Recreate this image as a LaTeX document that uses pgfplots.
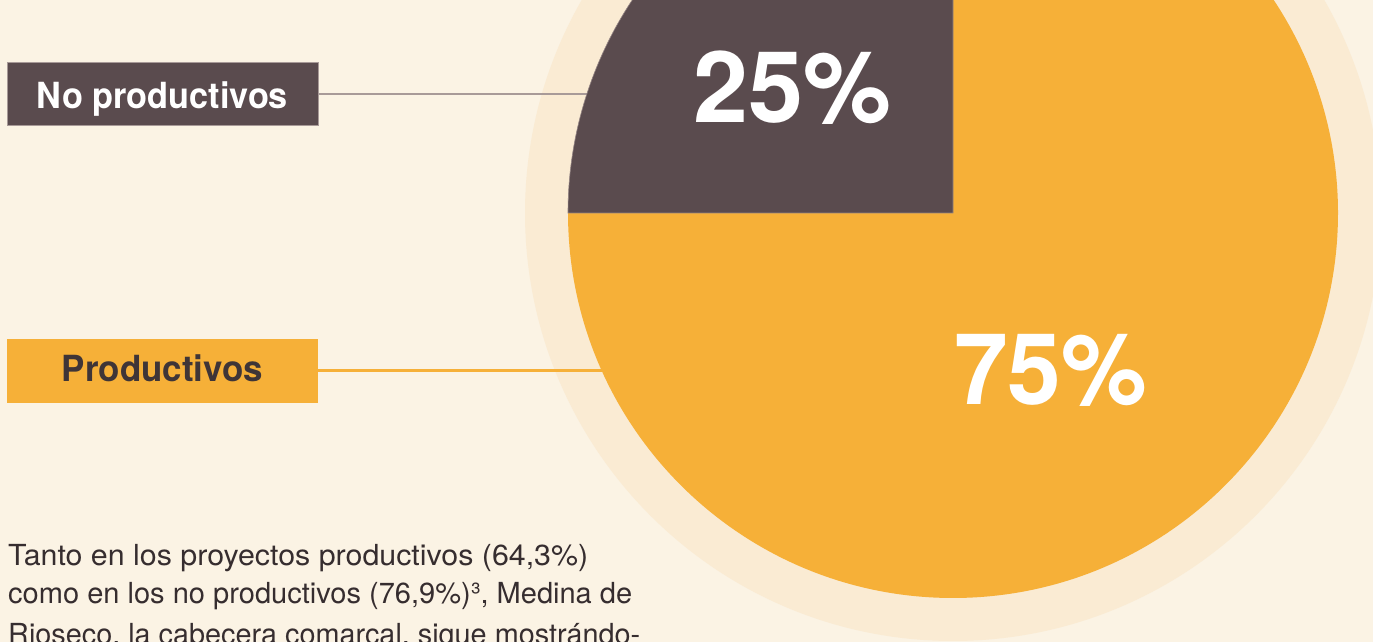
\documentclass[border=0pt]{standalone}
\usepackage{pgfplots}
\pgfplotsset{compat=1.18}
\usepackage{pgfplotstable}
\usepackage{graphicx}
\usepackage{fontspec}
\setmainfont{TeX Gyre Heros}
\definecolor{bg}{HTML}{FBF3E4}
\definecolor{ring}{HTML}{FAEBD3}
\definecolor{pieor}{HTML}{F6B038}
\definecolor{piedk}{HTML}{5A4B4E}
\definecolor{lngr}{HTML}{A89A98}
\definecolor{txdk}{HTML}{3F3537}
\definecolor{body}{HTML}{362D2F}

\pgfplotstableread{
label value
NoProductivos 25
Productivos 75
}\piedata
\pgfplotstablegetelem{0}{value}\of\piedata \let\vA\pgfplotsretval
\pgfplotstablegetelem{1}{value}\of\piedata \let\vB\pgfplotsretval
\pgfmathsetmacro\angS{90}
\pgfmathsetmacro\angA{90+3.6*\vA}
\pgfmathsetmacro\angB{\angA+3.6*\vB}

\begin{document}
\begin{tikzpicture}
\begin{axis}[name=ax, at={(0,0)}, anchor=south west,
  width=1373pt, height=642pt, scale only axis,
  xmin=0, xmax=1373, ymin=0, ymax=642, hide axis, clip=false]
% background
\fill[bg] (axis cs:0,0) rectangle (axis cs:1373,642);
% outer ring
\fill[ring] (axis cs:953,429) circle[radius=428pt];
% connector lines
\draw[lngr, line width=2.2pt] (axis cs:318,548) -- (axis cs:900,548);
\draw[pieor, line width=3pt] (axis cs:318,271) -- (axis cs:900,271);
% pie slices
\fill[pieor] (axis cs:953,429) -- ++(\angA:385pt) arc[start angle=\angA, end angle=\angB, radius=385pt] -- cycle;
\filldraw[fill=piedk, draw=lngr!70!piedk, line width=0.6pt] (axis cs:953,429) -- ++(\angS:385pt) arc[start angle=\angS, end angle=\angA, radius=385pt] -- cycle;
% percentages
\node[anchor=base, text=white, inner sep=0pt, font=\bfseries\fontsize{99}{99}\selectfont] at (axis cs:792,519) {\resizebox{198pt}{\height}{25\%}};
\node[anchor=base, text=white, inner sep=0pt, font=\bfseries\fontsize{99}{99}\selectfont] at (axis cs:1050.5,237) {\resizebox{193pt}{\height}{75\%}};
% label boxes
\filldraw[fill=piedk, draw=lngr, line width=0.8pt] (axis cs:7,517) rectangle (axis cs:318,580);
\fill[pieor] (axis cs:7,239) rectangle (axis cs:318,303);
\node[anchor=base, text=white, inner sep=0pt, font=\bfseries\fontsize{36}{36}\selectfont] at (axis cs:162.5,533) {\resizebox{251pt}{\height}{No productivos}};
\node[anchor=base, text=txdk, inner sep=0pt, font=\bfseries\fontsize{36}{36}\selectfont] at (axis cs:162.5,260) {\resizebox{201pt}{\height}{Productivos}};
% body text
\node[anchor=base west, text=body, inner sep=0pt, font=\fontsize{29}{29}\selectfont] at (axis cs:8,76) {\resizebox{580pt}{\height}{Tanto en los proyectos productivos (64,3\%)}};
\node[anchor=base west, text=body, inner sep=0pt, font=\fontsize{29}{29}\selectfont] at (axis cs:8,38) {\resizebox{624pt}{\height}{como en los no productivos (76,9\%)³, Medina de}};
\node[anchor=base west, text=body, inner sep=0pt, font=\fontsize{29}{29}\selectfont] at (axis cs:8,-3) {\resizebox{632pt}{\height}{Rioseco, la cabecera comarcal, sigue mostrándo-}};
\end{axis}
\pgfresetboundingbox
\path[use as bounding box] (ax.south west) rectangle (ax.north east);
\end{tikzpicture}
\end{document}
